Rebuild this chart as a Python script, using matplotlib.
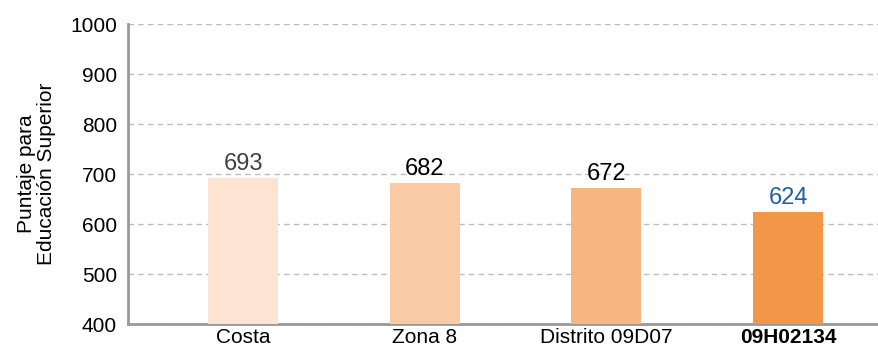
import matplotlib.pyplot as plt
import numpy as np

plt.rcParams['font.family'] = ['Liberation Sans', 'DejaVu Sans']

# datos
categorias = ['Costa', 'Zona 8', 'Distrito 09D07', '09H02134']
puntajes = [693, 682, 672, 624]
colores = ['#fde3d1', '#f9caa4', '#f6b681', '#f29748']
color_valor = ['#404040', '#000000', '#000000', '#1f5ea8']
yticks = [400, 500, 600, 700, 800, 900, 1000]

fig = plt.figure(figsize=(8.79, 3.53), dpi=100)
ax = fig.add_axes([128 / 879, 1 - 324 / 353, 751 / 879, 300 / 353])

x = np.arange(len(categorias))
ax.bar(x, np.array(puntajes) - 400, bottom=400, width=0.385, color=colores, zorder=3)

for xi, v, c in zip(x, puntajes, color_valor):
    ax.text(xi, v + 6, str(v), ha='center', va='bottom', fontsize=17, color=c, zorder=4)

ax.set_ylim(400, 1000)
ax.set_xlim(-0.633, 3.5)
ax.set_yticks(yticks)
ax.set_xticks(x)
ax.set_xticklabels(categorias, fontsize=15)
ax.get_xticklabels()[-1].set_fontweight('bold')
ax.tick_params(axis='y', labelsize=15, length=0, pad=8)
ax.tick_params(axis='x', length=0, pad=3)

ax.yaxis.grid(True, linestyle=(0, (4, 3)), color='#bdbdbd', linewidth=1, zorder=0)
for s in ['top', 'right']:
    ax.spines[s].set_visible(False)
ax.spines['left'].set_color('#999999')
ax.spines['left'].set_linewidth(2)
ax.spines['bottom'].set_color('#999999')
ax.spines['bottom'].set_linewidth(2)

ax.set_ylabel('Puntaje para\nEducación Superior', fontsize=15, labelpad=10, linespacing=1.1)

fig.savefig('out.png', dpi=100)
